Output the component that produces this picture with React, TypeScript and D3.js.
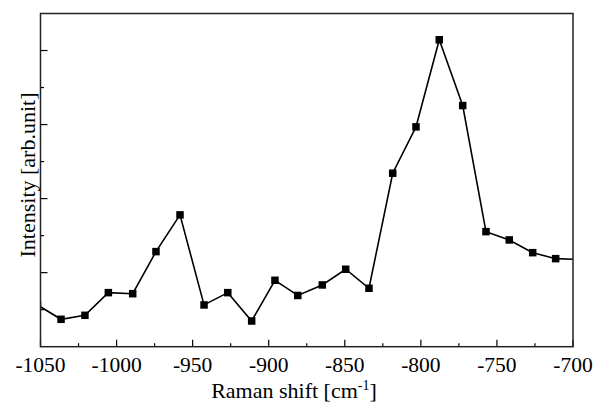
import React from "react";
import * as d3 from "d3";

const ramanShift = [
  -1052, -1036.5, -1020.8, -1005.4, -989.4, -974.1, -958.3, -942.5, -926.9, -911.2, -895.9,
  -880.9, -864.8, -849.4, -834.1, -818.5, -803.2, -787.9, -772.5, -757.2, -741.9, -726.5,
  -711.4, -696,
];
const intensity = [
  0.564, 0.37, 0.424, 0.73, 0.716, 1.284, 1.78, 0.564, 0.73, 0.347, 0.897,
  0.692, 0.834, 1.046, 0.789, 2.343, 2.969, 4.145, 3.257, 1.554, 1.442, 1.27,
  1.189, 1.178,
];
const xMajorTicks = [-1050, -1000, -950, -900, -850, -800, -750, -700];
const xMinorTicks = [-1025, -975, -925, -875, -825, -775, -725];
const yMajorTicks = [1, 2, 3, 4];
const yMinorTicks = [0.5, 1.5, 2.5, 3.5];

const W = 603;
const H = 403;
const left = 40.5;
const right = 573;
const top = 13.5;
const bottom = 346.7;

export default function App() {
  const x = d3.scaleLinear().domain([-1050, -700]).range([left, right]);
  const y = d3.scaleLinear().domain([0, 4.5]).range([bottom, top]);
  const pts = ramanShift.map((v, i) => [v, intensity[i]] as [number, number]);
  const line = d3
    .line<[number, number]>()
    .x((d) => x(d[0]))
    .y((d) => y(d[1]));
  const font = "'Liberation Serif', 'Times New Roman', serif";
  const ms = 7.5;
  return (
    <svg
      width={W}
      height={H}
      style={{ position: "absolute", left: 0, top: 0, background: "#fff" }}
    >
      <defs>
        <clipPath id="plotclip">
          <rect x={left} y={top} width={right - left} height={bottom - top} />
        </clipPath>
      </defs>
      <rect x={0} y={0} width={W} height={H} fill="#fff" />
      <g clipPath="url(#plotclip)">
        <path d={line(pts) || ""} fill="none" stroke="#000" strokeWidth={1.6} />
        {pts.map((d, i) => (
          <rect
            key={i}
            x={x(d[0]) - ms / 2}
            y={y(d[1]) - ms / 2}
            width={ms}
            height={ms}
            fill="#000"
          />
        ))}
      </g>
      {xMajorTicks.map((t) => (
        <g key={"xm" + t}>
          <line x1={x(t)} x2={x(t)} y1={bottom} y2={bottom - 7} stroke="#000" strokeWidth={1.2} />
          <text
            x={x(t)}
            y={371.5}
            textAnchor="middle"
            fontFamily={font}
            fontSize={21.5}
            fill="#000"
          >
            {t}
          </text>
        </g>
      ))}
      {xMinorTicks.map((t) => (
        <line key={"xn" + t} x1={x(t)} x2={x(t)} y1={bottom} y2={bottom - 3.5} stroke="#000" strokeWidth={1.2} />
      ))}
      {yMajorTicks.map((t) => (
        <line key={"ym" + t} x1={left} x2={left + 7} y1={y(t)} y2={y(t)} stroke="#000" strokeWidth={1.2} />
      ))}
      {yMinorTicks.map((t) => (
        <line key={"yn" + t} x1={left} x2={left + 3.5} y1={y(t)} y2={y(t)} stroke="#000" strokeWidth={1.2} />
      ))}
      <rect
        x={left}
        y={top}
        width={right - left}
        height={bottom - top}
        fill="none"
        stroke="#222"
        strokeWidth={1.5}
      />
      <text
        x={294}
        y={397.5}
        textAnchor="middle"
        fontFamily={font}
        fontSize={22}
        fill="#000"
      >
        Raman shift [cm
        <tspan dy={-8} fontSize={14}>-1</tspan>
        <tspan dy={8}>]</tspan>
      </text>
      <text
        transform={`translate(35, 175) rotate(-90)`}
        textAnchor="middle"
        fontFamily={font}
        fontSize={22}
        fill="#000"
      >
        Intensity [arb.unit]
      </text>
    </svg>
  );
}
